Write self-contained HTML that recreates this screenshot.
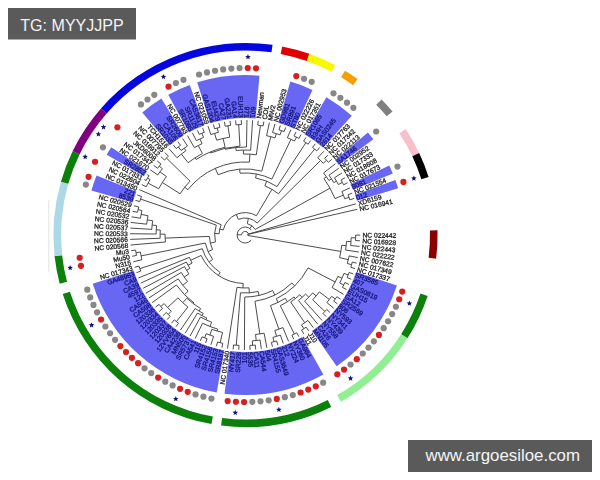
<!DOCTYPE html>
<html><head><meta charset="utf-8"><style>
html,body{margin:0;padding:0;background:#fff;}
body{width:600px;height:480px;position:relative;overflow:hidden;font-family:"Liberation Sans",sans-serif;}
svg{position:absolute;left:0;top:0;filter:blur(0.4px);}
.tg{position:absolute;left:8px;top:8px;width:128px;height:32px;background:#5a5a5a;color:#f2f2f2;font-size:17px;line-height:32px;text-align:center;letter-spacing:0px;}
.wm{position:absolute;left:408px;top:440px;width:184px;height:32px;background:#5a5a5a;color:#f2f2f2;font-size:16px;line-height:31px;text-align:center;}
</style></head><body>
<svg width="600" height="480" viewBox="0 0 600 480">
<rect x="48" y="200" width="1.5" height="72" fill="#ececec"/>
<path d="M437.14,230.21 A192.1,192.1 0 0 1 435.74,258.68 L428.19,257.74 A184.5,184.5 0 0 0 429.54,230.40 Z" fill="#8b0000" transform="translate(0.4,0)"/><path d="M427.27,295.95 A192.1,192.1 0 0 1 407.12,338.22 L400.71,334.13 A184.5,184.5 0 0 0 420.07,293.54 Z" fill="#0b800b" transform="translate(0.4,0)"/><path d="M407.12,338.22 A192.1,192.1 0 0 1 340.57,401.70 L336.79,395.10 A184.5,184.5 0 0 0 400.71,334.13 Z" fill="#92ee92" transform="translate(0.4,0)"/><path d="M330.81,406.92 A192.1,192.1 0 0 1 220.69,425.54 L221.66,418.00 A184.5,184.5 0 0 0 327.42,400.12 Z" fill="#0b800b" transform="translate(0.4,0)"/><path d="M211.08,424.06 A192.1,192.1 0 0 1 62.30,294.04 L69.53,291.71 A184.5,184.5 0 0 0 212.43,416.58 Z" fill="#0b800b" transform="translate(0.4,0)"/><path d="M59.29,283.75 A192.1,192.1 0 0 1 54.16,256.08 L61.71,255.25 A184.5,184.5 0 0 0 66.64,281.82 Z" fill="#0b800b" transform="translate(0.4,0)"/><path d="M54.16,256.08 A192.1,192.1 0 0 1 60.53,181.73 L67.84,183.84 A184.5,184.5 0 0 0 61.71,255.25 Z" fill="#add8e6" transform="translate(0.4,0)"/><path d="M60.53,181.73 A192.1,192.1 0 0 1 72.29,151.09 L79.13,154.41 A184.5,184.5 0 0 0 67.84,183.84 Z" fill="#0b800b" transform="translate(0.4,0)"/><path d="M72.29,151.09 A192.1,192.1 0 0 1 100.56,108.47 L106.28,113.47 A184.5,184.5 0 0 0 79.13,154.41 Z" fill="#800080" transform="translate(0.4,0)"/><path d="M100.56,108.47 A192.1,192.1 0 0 1 272.17,44.82 L271.10,52.34 A184.5,184.5 0 0 0 106.28,113.47 Z" fill="#0505e0" transform="translate(0.4,0)"/><path d="M281.75,46.43 A192.1,192.1 0 0 1 308.91,53.81 L306.38,60.98 A184.5,184.5 0 0 0 280.30,53.89 Z" fill="#e00000" transform="translate(0.4,0)"/><path d="M308.91,53.81 A192.1,192.1 0 0 1 334.69,65.07 L331.15,71.79 A184.5,184.5 0 0 0 306.38,60.98 Z" fill="#f8f800" transform="translate(0.4,0)"/><path d="M344.61,70.68 A192.1,192.1 0 0 1 357.20,79.00 L352.76,85.17 A184.5,184.5 0 0 0 340.68,77.19 Z" fill="#f5a000" transform="translate(0.4,0)"/><path d="M381.17,99.40 A192.1,192.1 0 0 1 392.15,111.39 L386.33,116.28 A184.5,184.5 0 0 0 375.79,104.77 Z" fill="#808080" transform="translate(0.4,0)"/><path d="M405.29,128.97 A192.1,192.1 0 0 1 418.77,152.90 L411.90,156.15 A184.5,184.5 0 0 0 398.95,133.17 Z" fill="#f8c0cc" transform="translate(0.4,0)"/><path d="M418.77,152.90 A192.1,192.1 0 0 1 428.21,176.91 L420.96,179.21 A184.5,184.5 0 0 0 411.90,156.15 Z" fill="#000000" transform="translate(0.4,0)"/><path d="M396.92,285.49 A160.0,160.0 0 0 1 336.70,366.18 L312.08,330.93 A117.0,117.0 0 0 0 356.12,271.92 Z" fill="#6767f4"/><path d="M323.36,374.56 A160.0,160.0 0 0 1 224.50,393.67 L230.04,351.03 A117.0,117.0 0 0 0 302.33,337.05 Z" fill="#6767f4"/><path d="M216.71,392.46 A160.0,160.0 0 0 1 92.68,283.67 L133.64,270.59 A117.0,117.0 0 0 0 224.34,350.14 Z" fill="#6767f4"/><path d="M91.41,190.49 A160.0,160.0 0 0 1 96.54,175.60 L136.46,191.56 A117.0,117.0 0 0 0 132.72,202.46 Z" fill="#6767f4"/><path d="M106.70,154.71 A160.0,160.0 0 0 1 111.25,147.35 L147.22,170.90 A117.0,117.0 0 0 0 143.90,176.29 Z" fill="#6767f4"/><path d="M142.27,112.42 A160.0,160.0 0 0 1 161.44,98.62 L183.92,135.27 A117.0,117.0 0 0 0 169.91,145.36 Z" fill="#6767f4"/><path d="M168.25,94.66 A160.0,160.0 0 0 1 189.74,84.88 L204.62,125.23 A117.0,117.0 0 0 0 188.90,132.38 Z" fill="#6767f4"/><path d="M197.20,82.34 A160.0,160.0 0 0 1 259.47,75.65 L255.61,118.47 A117.0,117.0 0 0 0 210.07,123.37 Z" fill="#6767f4"/><path d="M290.38,81.54 A160.0,160.0 0 0 1 312.47,89.88 L294.37,128.88 A117.0,117.0 0 0 0 278.21,122.78 Z" fill="#6767f4"/><path d="M326.42,97.20 A160.0,160.0 0 0 1 351.81,115.78 L323.13,147.82 A117.0,117.0 0 0 0 304.56,134.24 Z" fill="#6767f4"/><path d="M367.95,132.49 A160.0,160.0 0 0 1 373.31,139.28 L338.86,165.01 A117.0,117.0 0 0 0 334.93,160.04 Z" fill="#6767f4"/><path d="M389.23,165.53 A160.0,160.0 0 0 1 392.78,173.42 L353.09,189.97 A117.0,117.0 0 0 0 350.49,184.20 Z" fill="#6767f4"/><path d="M395.36,180.03 A160.0,160.0 0 0 1 398.11,188.24 L356.99,200.81 A117.0,117.0 0 0 0 354.98,194.81 Z" fill="#6767f4"/>
<path d="M247.56,235.42 L340.86,251.46 M341.72,245.24 A97.16,97.16 0 0 1 339.59,257.61 M341.72,245.24 L346.15,245.71 M346.52,241.35 A101.62,101.62 0 0 1 345.60,250.06 M346.52,241.35 L350.97,241.63 M351.15,237.72 A106.08,106.08 0 0 1 350.66,245.53 M351.15,237.72 L355.60,237.83 M355.64,235.11 A110.54,110.54 0 0 1 355.50,240.55 M355.64,235.11 L360.10,235.11 M355.50,240.55 L359.96,240.77 M350.66,245.53 L359.53,246.42 M345.60,250.06 L358.83,252.04 M339.59,257.61 L348.27,259.69 M349.11,255.86 A106.08,106.08 0 0 1 347.29,263.48 M349.11,255.86 L357.85,257.62 M347.29,263.48 L351.58,264.68 M352.28,262.05 A110.54,110.54 0 0 1 350.82,267.29 M352.28,262.05 L356.60,263.14 M350.82,267.29 L355.08,268.59 M247.51,234.32 L355.80,203.84 M247.54,234.44 L357.20,209.33 M241.51,234.69 A3.60,3.60 0 0 1 248.48,233.77 M241.50,234.87 L237.10,234.72 M251.23,240.14 A8.00,8.00 0 1 1 251.23,229.86 M249.81,228.54 L251.88,225.71 M247.31,223.71 A11.50,11.50 0 0 1 255.17,229.45 M247.31,223.71 L248.36,218.32 M238.39,219.38 A17.00,17.00 0 0 1 257.20,223.05 M238.39,219.38 L236.26,214.42 M223.28,229.94 A22.40,22.40 0 0 1 256.45,215.69 M223.28,229.94 L219.77,229.13 M219.13,233.69 A26.00,26.00 0 0 1 221.20,224.76 M219.13,233.69 L214.64,233.46 M215.41,241.96 A30.50,30.50 0 0 1 216.26,225.08 M215.41,241.96 L210.34,243.15 M212.53,249.63 A35.70,35.70 0 0 1 209.43,236.38 M212.53,249.63 L208.06,251.63 M212.68,259.44 A40.60,40.60 0 0 1 205.30,243.00 M212.68,259.44 L209.17,262.09 M220.15,272.45 A45.00,45.00 0 0 1 202.23,248.69 M220.15,272.45 L218.21,275.36 M243.16,283.46 A48.50,48.50 0 0 1 201.12,255.45 M243.16,283.46 L242.98,287.96 M249.00,287.86 A53.00,53.00 0 0 1 236.98,287.37 M249.00,287.86 L249.36,292.84 M258.16,291.51 A58.00,58.00 0 0 1 240.47,292.82 M258.16,291.51 L259.06,295.41 M272.63,290.55 A62.00,62.00 0 0 1 244.73,297.00 M272.63,290.55 L274.85,295.03 M291.86,282.99 A67.00,67.00 0 0 1 254.97,301.27 M291.86,282.99 L294.65,285.85 M308.04,267.86 A71.00,71.00 0 0 1 276.31,298.77 M308.04,267.86 L335.17,282.02 M337.89,276.39 A101.60,101.60 0 0 1 332.10,287.47 M337.89,276.39 L341.98,278.21 M343.99,273.39 A106.08,106.08 0 0 1 339.74,282.93 M343.99,273.39 L348.15,275.01 M349.10,272.46 A110.54,110.54 0 0 1 347.13,277.53 M349.10,272.46 L353.30,273.97 M347.13,277.53 L351.25,279.25 M339.74,282.93 L343.71,284.94 M344.91,282.50 A110.54,110.54 0 0 1 342.45,287.36 M344.91,282.50 L348.94,284.42 M342.45,287.36 L346.38,289.47 M332.10,287.47 L343.58,294.39 M276.31,298.77 L278.07,302.37 M285.28,298.33 A75.00,75.00 0 0 1 270.46,305.58 M285.28,298.33 L287.42,301.71 M294.08,296.98 A79.00,79.00 0 0 1 280.30,305.72 M294.08,296.98 L295.32,298.55 M299.74,294.80 A81.00,81.00 0 0 1 290.65,301.98 M299.74,294.80 L302.10,297.38 M305.56,294.04 A84.50,84.50 0 0 1 298.46,300.52 M305.56,294.04 L308.78,297.18 M312.66,292.94 A89.00,89.00 0 0 1 304.63,301.16 M312.66,292.94 L316.15,295.93 M319.42,291.90 A93.60,93.60 0 0 1 312.67,299.77 M319.42,291.90 L329.33,299.49 M331.65,296.34 A106.08,106.08 0 0 1 326.89,302.56 M331.65,296.34 L335.29,298.92 M336.83,296.68 A110.54,110.54 0 0 1 333.69,301.12 M336.83,296.68 L340.54,299.16 M333.69,301.12 L337.26,303.78 M326.89,302.56 L333.76,308.24 M312.67,299.77 L324.90,311.49 M326.76,309.51 A110.54,110.54 0 0 1 322.99,313.44 M326.76,309.51 L330.05,312.51 M322.99,313.44 L326.13,316.60 M304.63,301.16 L322.02,320.49 M298.46,300.52 L317.72,324.17 M290.65,301.98 L304.76,322.72 M307.95,320.45 A106.08,106.08 0 0 1 301.48,324.86 M307.95,320.45 L313.24,327.64 M301.48,324.86 L303.85,328.64 M306.13,327.16 A110.54,110.54 0 0 1 301.52,330.06 M306.13,327.16 L308.60,330.88 M301.52,330.06 L303.80,333.89 M280.30,305.72 L294.35,333.96 M296.78,332.72 A110.54,110.54 0 0 1 291.90,335.14 M296.78,332.72 L298.86,336.66 M291.90,335.14 L293.79,339.18 M270.46,305.58 L278.91,329.11 M282.93,327.57 A100.00,100.00 0 0 1 274.82,330.48 M282.93,327.57 L288.60,341.45 M274.82,330.48 L276.63,336.29 M280.35,335.05 A106.08,106.08 0 0 1 272.87,337.38 M280.35,335.05 L283.31,343.47 M272.87,337.38 L274.03,341.69 M276.65,340.94 A110.54,110.54 0 0 1 271.40,342.37 M276.65,340.94 L277.93,345.22 M271.40,342.37 L272.46,346.70 M254.97,301.27 L259.83,333.91 M264.08,333.18 A100.00,100.00 0 0 1 255.56,334.45 M264.08,333.18 L266.93,347.91 M255.56,334.45 L256.20,340.50 M260.08,340.02 A106.08,106.08 0 0 1 252.29,340.84 M260.08,340.02 L261.34,348.85 M252.29,340.84 L252.60,345.29 M255.31,345.07 A110.54,110.54 0 0 1 249.88,345.44 M255.31,345.07 L255.72,349.51 M249.88,345.44 L250.07,349.89 M244.73,297.00 L244.41,350.00 M240.47,292.82 L236.28,345.19 M239.00,345.37 A110.54,110.54 0 0 1 233.57,344.94 M239.00,345.37 L238.75,349.82 M233.57,344.94 L233.11,349.37 M236.98,287.37 L227.49,348.64 M201.12,255.45 L190.69,260.30 M192.09,263.11 A60.00,60.00 0 0 1 189.45,257.42 M192.09,263.11 L188.03,265.27 M189.80,268.38 A64.60,64.60 0 0 1 186.44,262.06 M189.80,268.38 L186.63,270.30 M188.91,273.83 A68.30,68.30 0 0 1 184.56,266.63 M188.91,273.83 L184.23,277.08 M187.51,281.47 A74.00,74.00 0 0 1 181.28,272.45 M187.51,281.47 L182.84,285.24 M188.11,291.15 A80.00,80.00 0 0 1 178.18,278.84 M188.11,291.15 L184.55,294.65 M194.06,302.97 A85.00,85.00 0 0 1 176.37,285.02 M194.06,302.97 L193.46,303.77 M200.63,308.61 A86.00,86.00 0 0 1 186.82,298.24 M200.63,308.61 L199.13,311.09 M203.26,313.44 A88.90,88.90 0 0 1 195.13,308.53 M203.26,313.44 L202.09,315.65 M206.81,317.99 A91.40,91.40 0 0 1 197.51,313.03 M206.81,317.99 L205.97,319.81 M211.66,322.21 A93.40,93.40 0 0 1 200.45,317.04 M211.66,322.21 L210.02,326.51 M217.73,329.10 A98.00,98.00 0 0 1 202.54,323.28 M217.73,329.10 L217.18,331.02 M222.54,332.42 A100.00,100.00 0 0 1 211.90,329.33 M222.54,332.42 L220.16,342.69 M222.82,343.27 A110.54,110.54 0 0 1 217.51,342.04 M222.82,343.27 L221.92,347.64 M217.51,342.04 L216.40,346.36 M211.90,329.33 L209.88,335.06 M213.60,336.30 A106.08,106.08 0 0 1 206.21,333.70 M213.60,336.30 L210.95,344.81 M206.21,333.70 L204.58,337.84 M207.12,338.81 A110.54,110.54 0 0 1 202.06,336.82 M207.12,338.81 L205.59,343.00 M202.06,336.82 L200.32,340.92 M202.54,323.28 L195.16,338.59 M200.45,317.04 L190.12,336.01 M197.51,313.03 L185.22,333.18 M195.13,308.53 L180.46,330.11 M186.82,298.24 L182.75,302.65 M187.91,307.07 A92.00,92.00 0 0 1 177.93,297.86 M187.91,307.07 L176.39,321.59 M178.54,323.25 A110.54,110.54 0 0 1 174.28,319.87 M178.54,323.25 L175.85,326.81 M174.28,319.87 L171.42,323.29 M177.93,297.86 L167.65,307.48 M171.31,311.21 A106.08,106.08 0 0 1 164.17,303.58 M171.31,311.21 L168.21,314.41 M170.18,316.28 A110.54,110.54 0 0 1 166.27,312.50 M170.18,316.28 L167.16,319.56 M166.27,312.50 L163.09,315.62 M164.17,303.58 L160.77,306.47 M162.55,308.52 A110.54,110.54 0 0 1 159.04,304.37 M162.55,308.52 L159.22,311.49 M159.04,304.37 L155.56,307.17 M176.37,285.02 L152.12,302.67 M178.18,278.84 L148.90,298.01 M181.28,272.45 L145.92,293.20 M184.56,266.63 L143.17,288.25 M186.44,262.06 L140.67,283.17 M189.45,257.42 L138.43,277.97 M202.23,248.69 L139.80,268.62 M140.66,271.20 A110.54,110.54 0 0 1 139.00,266.02 M140.66,271.20 L136.44,272.67 M139.00,266.02 L134.72,267.27 M205.30,243.00 L141.10,255.89 M141.94,259.72 A106.08,106.08 0 0 1 140.40,252.04 M141.94,259.72 L133.27,261.80 M140.40,252.04 L136.00,252.76 M136.47,255.44 A110.54,110.54 0 0 1 135.59,250.06 M136.47,255.44 L132.08,256.26 M135.59,250.06 L131.17,250.67 M209.43,236.38 L165.16,238.09 M165.41,241.99 A80.00,80.00 0 0 1 165.10,234.18 M165.41,241.99 L130.54,245.04 M165.10,234.18 L160.10,234.13 M160.16,238.25 A85.00,85.00 0 0 1 160.25,230.01 M160.16,238.25 L130.18,239.39 M160.25,230.01 L156.25,229.78 M156.11,234.02 A89.00,89.00 0 0 1 156.60,225.54 M156.11,234.02 L130.11,233.73 M156.60,225.54 L152.13,225.07 M151.77,229.37 A93.50,93.50 0 0 1 152.69,220.79 M151.77,229.37 L130.31,228.07 M152.69,220.79 L147.25,219.95 M146.69,224.18 A99.00,99.00 0 0 1 147.99,215.75 M146.69,224.18 L130.79,222.43 M147.99,215.75 L141.12,214.39 M140.43,218.24 A106.00,106.00 0 0 1 141.96,210.56 M140.43,218.24 L131.55,216.82 M141.96,210.56 L138.06,209.64 M137.47,212.28 A110.00,110.00 0 0 1 138.72,207.01 M137.47,212.28 L132.58,211.25 M138.72,207.01 L133.88,205.74 M216.26,225.08 L140.56,199.06 M139.71,201.65 A110.54,110.54 0 0 1 141.48,196.50 M139.71,201.65 L135.46,200.30 M141.48,196.50 L137.30,194.95 M221.20,224.76 L139.40,189.69 M256.45,215.69 L271.97,189.31 M264.87,185.83 A53.00,53.00 0 0 1 278.46,193.82 M264.87,185.83 L266.74,181.19 M255.61,177.96 A58.00,58.00 0 0 1 277.00,186.56 M255.61,177.96 L256.34,174.03 M240.00,173.21 A62.00,62.00 0 0 1 271.90,179.09 M240.00,173.21 L239.67,169.22 M218.13,174.76 A66.00,66.00 0 0 1 261.82,171.15 M218.13,174.76 L215.27,168.37 M187.87,189.69 A73.00,73.00 0 0 1 249.43,162.13 M187.87,189.69 L184.73,187.20 M180.07,193.77 A77.00,77.00 0 0 1 190.05,181.16 M180.07,193.77 L162.33,182.53 M158.69,188.78 A98.00,98.00 0 0 1 166.43,176.56 M158.69,188.78 L148.10,183.12 M146.25,186.74 A110.00,110.00 0 0 1 150.09,179.57 M146.25,186.74 L141.76,184.54 M150.09,179.57 L147.49,178.06 M146.12,180.48 A113.00,113.00 0 0 1 148.93,175.67 M146.12,180.48 L144.37,179.52 M148.93,175.67 L147.22,174.62 M166.43,176.56 L160.01,171.79 M157.73,174.98 A106.00,106.00 0 0 1 162.40,168.69 M157.73,174.98 L150.31,169.88 M162.40,168.69 L159.28,166.19 M157.61,168.32 A110.00,110.00 0 0 1 161.00,164.10 M157.61,168.32 L153.63,165.29 M161.00,164.10 L157.18,160.88 M190.05,181.16 L166.46,158.08 M164.59,160.04 A110.00,110.00 0 0 1 168.38,156.17 M164.59,160.04 L160.93,156.64 M168.38,156.17 L164.89,152.59 M249.43,162.13 L249.90,154.14 M243.44,154.02 A81.00,81.00 0 0 1 256.34,154.78 M243.44,154.02 L243.36,150.02 M236.08,150.48 A85.00,85.00 0 0 1 250.65,150.18 M236.08,150.48 L235.76,147.50 M225.16,149.29 A88.00,88.00 0 0 1 246.51,147.01 M225.16,149.29 L224.93,148.32 M210.49,153.01 A89.00,89.00 0 0 1 239.96,146.15 M210.49,153.01 L210.10,152.09 M196.16,159.47 A90.00,90.00 0 0 1 225.11,147.25 M196.16,159.47 L195.08,157.79 M188.17,162.73 A92.00,92.00 0 0 1 202.41,153.50 M188.17,162.73 L181.36,154.09 M176.98,157.74 A103.00,103.00 0 0 1 185.94,150.68 M176.98,157.74 L169.05,148.74 M185.94,150.68 L184.22,148.23 M181.06,150.53 A106.00,106.00 0 0 1 187.46,146.04 M181.06,150.53 L178.31,146.92 M176.17,148.59 A110.54,110.54 0 0 1 180.50,145.30 M176.17,148.59 L173.38,145.10 M180.50,145.30 L177.90,141.68 M187.46,146.04 L182.57,138.49 M202.41,153.50 L198.23,145.53 M194.42,147.63 A101.00,101.00 0 0 1 202.13,143.60 M194.42,147.63 L187.40,135.52 M202.13,143.60 L199.97,139.00 M196.45,140.73 A106.08,106.08 0 0 1 203.54,137.40 M196.45,140.73 L192.36,132.80 M203.54,137.40 L201.80,133.29 M199.31,134.39 A110.54,110.54 0 0 1 204.31,132.26 M199.31,134.39 L197.46,130.33 M204.31,132.26 L202.67,128.11 M225.11,147.25 L223.11,138.47 M216.63,140.18 A99.00,99.00 0 0 1 229.69,137.21 M216.63,140.18 L214.59,133.40 M210.86,134.60 A106.08,106.08 0 0 1 218.36,132.34 M210.86,134.60 L207.98,126.16 M218.36,132.34 L217.24,128.03 M214.61,128.75 A110.54,110.54 0 0 1 219.88,127.38 M214.61,128.75 L213.38,124.46 M219.88,127.38 L218.86,123.03 M229.69,137.21 L227.89,125.81 M225.21,126.26 A110.54,110.54 0 0 1 230.59,125.42 M225.21,126.26 L224.41,121.88 M230.59,125.42 L230.00,121.00 M239.96,146.15 L238.71,124.64 M236.00,124.84 A110.54,110.54 0 0 1 241.43,124.52 M236.00,124.84 L235.63,120.39 M241.43,124.52 L241.28,120.06 M246.51,147.01 L246.95,120.01 M250.65,150.18 L252.60,120.25 M256.34,154.78 L260.43,125.53 M257.73,125.18 A110.54,110.54 0 0 1 263.12,125.94 M257.73,125.18 L258.24,120.75 M263.12,125.94 L263.85,121.54 M261.82,171.15 L270.84,136.69 M266.59,135.68 A101.62,101.62 0 0 1 275.05,137.90 M266.59,135.68 L269.41,122.60 M275.05,137.90 L276.37,133.63 M272.60,132.55 A106.08,106.08 0 0 1 280.09,134.86 M272.60,132.55 L274.92,123.93 M280.09,134.86 L281.56,130.65 M278.98,129.78 A110.54,110.54 0 0 1 284.12,131.58 M278.98,129.78 L280.35,125.54 M284.12,131.58 L285.69,127.40 M271.90,179.09 L290.95,139.34 M287.39,137.71 A106.08,106.08 0 0 1 294.45,141.10 M287.39,137.71 L290.94,129.53 M294.45,141.10 L296.53,137.15 M294.10,135.91 A110.54,110.54 0 0 1 298.92,138.45 M294.10,135.91 L296.08,131.92 M298.92,138.45 L301.09,134.55 M277.00,186.56 L305.90,142.68 M303.61,141.21 A110.54,110.54 0 0 1 308.15,144.21 M303.61,141.21 L305.97,137.43 M308.15,144.21 L310.70,140.54 M278.46,193.82 L314.68,149.11 M312.54,147.42 A110.54,110.54 0 0 1 316.77,150.85 M312.54,147.42 L315.27,143.89 M316.77,150.85 L319.67,147.45 M257.20,223.05 L320.58,160.46 M317.77,157.72 A106.08,106.08 0 0 1 323.28,163.30 M317.77,157.72 L323.89,151.23 M323.28,163.30 L326.57,160.28 M324.70,158.30 A110.54,110.54 0 0 1 328.38,162.31 M324.70,158.30 L327.91,155.21 M328.38,162.31 L331.74,159.38 M255.17,229.45 L330.05,188.18 M323.92,178.47 A97.00,97.00 0 0 1 334.99,198.55 M323.92,178.47 L326.36,176.72 M323.59,173.03 A100.00,100.00 0 0 1 328.96,180.53 M323.59,173.03 L335.36,163.74 M328.96,180.53 L331.48,178.90 M328.98,175.23 A103.00,103.00 0 0 1 333.82,182.67 M328.98,175.23 L338.76,168.27 M333.82,182.67 L336.47,181.11 M334.42,177.77 A106.08,106.08 0 0 1 338.40,184.52 M334.42,177.77 L341.93,172.96 M338.40,184.52 L342.32,182.39 M341.00,180.02 A110.54,110.54 0 0 1 343.59,184.80 M341.00,180.02 L344.86,177.80 M343.59,184.80 L347.56,182.78 M334.99,198.55 L343.41,195.14 M341.87,191.54 A106.08,106.08 0 0 1 344.81,198.80 M341.87,191.54 L350.01,187.89 M344.81,198.80 L349.00,197.28 M348.04,194.73 A110.54,110.54 0 0 1 349.90,199.85 M348.04,194.73 L352.20,193.11 M349.90,199.85 L354.13,198.43" fill="none" stroke="#383838" stroke-width="0.9"/>
<g font-family="Liberation Sans, sans-serif" font-size="6.7" stroke-width="0.3">
<text x="362.40" y="235.11" transform="rotate(0.06 362.40 235.11)" text-anchor="start" dominant-baseline="central" fill="#262626" stroke="#262626" textLength="33.90" lengthAdjust="spacingAndGlyphs">NC 022442</text><text x="362.25" y="240.89" transform="rotate(2.88 362.25 240.89)" text-anchor="start" dominant-baseline="central" fill="#262626" stroke="#262626" textLength="33.90" lengthAdjust="spacingAndGlyphs">NC 016928</text><text x="361.82" y="246.65" transform="rotate(5.70 361.82 246.65)" text-anchor="start" dominant-baseline="central" fill="#262626" stroke="#262626" textLength="33.90" lengthAdjust="spacingAndGlyphs">NC 022443</text><text x="361.11" y="252.38" transform="rotate(8.52 361.11 252.38)" text-anchor="start" dominant-baseline="central" fill="#262626" stroke="#262626" textLength="33.90" lengthAdjust="spacingAndGlyphs">NC 022222</text><text x="360.11" y="258.07" transform="rotate(11.34 360.11 258.07)" text-anchor="start" dominant-baseline="central" fill="#262626" stroke="#262626" textLength="33.90" lengthAdjust="spacingAndGlyphs">NC 007622</text><text x="358.83" y="263.70" transform="rotate(14.16 358.83 263.70)" text-anchor="start" dominant-baseline="central" fill="#262626" stroke="#262626" textLength="33.90" lengthAdjust="spacingAndGlyphs">NC 017349</text><text x="357.28" y="269.27" transform="rotate(16.98 357.28 269.27)" text-anchor="start" dominant-baseline="central" fill="#262626" stroke="#262626" textLength="33.90" lengthAdjust="spacingAndGlyphs">NC 017337</text><text x="355.46" y="274.75" transform="rotate(19.81 355.46 274.75)" text-anchor="start" dominant-baseline="central" fill="#16167a" stroke="#16167a" textLength="24.21" lengthAdjust="spacingAndGlyphs">SR3585</text><text x="353.37" y="280.13" transform="rotate(22.63 353.37 280.13)" text-anchor="start" dominant-baseline="central" fill="#16167a" stroke="#16167a" textLength="11.18" lengthAdjust="spacingAndGlyphs">407</text><text x="351.02" y="285.41" transform="rotate(25.45 351.02 285.41)" text-anchor="start" dominant-baseline="central" fill="#16167a" stroke="#16167a" textLength="29.05" lengthAdjust="spacingAndGlyphs">GAS0819</text><text x="348.41" y="290.56" transform="rotate(28.27 348.41 290.56)" text-anchor="start" dominant-baseline="central" fill="#16167a" stroke="#16167a" textLength="21.60" lengthAdjust="spacingAndGlyphs">EUH15</text><text x="345.55" y="295.58" transform="rotate(31.09 345.55 295.58)" text-anchor="start" dominant-baseline="central" fill="#16167a" stroke="#16167a" textLength="17.13" lengthAdjust="spacingAndGlyphs">GA12</text><text x="342.44" y="300.45" transform="rotate(33.91 342.44 300.45)" text-anchor="start" dominant-baseline="central" fill="#16167a" stroke="#16167a" textLength="24.21" lengthAdjust="spacingAndGlyphs">SR2569</text><text x="339.10" y="305.16" transform="rotate(36.74 339.10 305.16)" text-anchor="start" dominant-baseline="central" fill="#16167a" stroke="#16167a" textLength="11.18" lengthAdjust="spacingAndGlyphs">806</text><text x="335.54" y="309.70" transform="rotate(39.56 335.54 309.70)" text-anchor="start" dominant-baseline="central" fill="#16167a" stroke="#16167a" textLength="20.49" lengthAdjust="spacingAndGlyphs">NY593</text><text x="331.75" y="314.06" transform="rotate(42.38 331.75 314.06)" text-anchor="start" dominant-baseline="central" fill="#16167a" stroke="#16167a" textLength="20.49" lengthAdjust="spacingAndGlyphs">NY341</text><text x="327.75" y="318.23" transform="rotate(45.20 327.75 318.23)" text-anchor="start" dominant-baseline="central" fill="#16167a" stroke="#16167a" textLength="20.49" lengthAdjust="spacingAndGlyphs">NY439</text><text x="323.56" y="322.20" transform="rotate(48.02 323.56 322.20)" text-anchor="start" dominant-baseline="central" fill="#16167a" stroke="#16167a" textLength="20.49" lengthAdjust="spacingAndGlyphs">NY558</text><text x="319.17" y="325.96" transform="rotate(50.84 319.17 325.96)" text-anchor="start" dominant-baseline="central" fill="#16167a" stroke="#16167a" textLength="16.76" lengthAdjust="spacingAndGlyphs">CA26</text><text x="314.60" y="329.49" transform="rotate(53.66 314.60 329.49)" text-anchor="start" dominant-baseline="central" fill="#16167a" stroke="#16167a" textLength="21.60" lengthAdjust="spacingAndGlyphs">MN105</text><text x="309.87" y="332.80" transform="rotate(56.49 309.87 332.80)" text-anchor="start" dominant-baseline="central" fill="#262626" stroke="#262626" textLength="10.80" lengthAdjust="spacingAndGlyphs">J10</text><text x="304.97" y="335.87" transform="rotate(59.31 304.97 335.87)" text-anchor="start" dominant-baseline="central" fill="#262626" stroke="#262626" textLength="10.31" lengthAdjust="spacingAndGlyphs">J11</text><text x="299.94" y="338.69" transform="rotate(62.13 299.94 338.69)" text-anchor="start" dominant-baseline="central" fill="#16167a" stroke="#16167a" textLength="20.86" lengthAdjust="spacingAndGlyphs">GA984</text><text x="294.76" y="341.27" transform="rotate(64.95 294.76 341.27)" text-anchor="start" dominant-baseline="central" fill="#16167a" stroke="#16167a" textLength="20.49" lengthAdjust="spacingAndGlyphs">NY360</text><text x="289.47" y="343.58" transform="rotate(67.77 289.47 343.58)" text-anchor="start" dominant-baseline="central" fill="#16167a" stroke="#16167a" textLength="20.49" lengthAdjust="spacingAndGlyphs">NY224</text><text x="284.08" y="345.64" transform="rotate(70.59 284.08 345.64)" text-anchor="start" dominant-baseline="central" fill="#16167a" stroke="#16167a" textLength="11.18" lengthAdjust="spacingAndGlyphs">212</text><text x="278.58" y="347.42" transform="rotate(73.41 278.58 347.42)" text-anchor="start" dominant-baseline="central" fill="#16167a" stroke="#16167a" textLength="29.05" lengthAdjust="spacingAndGlyphs">GAS3649</text><text x="273.01" y="348.93" transform="rotate(76.24 273.01 348.93)" text-anchor="start" dominant-baseline="central" fill="#16167a" stroke="#16167a" textLength="24.21" lengthAdjust="spacingAndGlyphs">SR4155</text><text x="267.37" y="350.17" transform="rotate(79.06 267.37 350.17)" text-anchor="start" dominant-baseline="central" fill="#16167a" stroke="#16167a" textLength="11.18" lengthAdjust="spacingAndGlyphs">504</text><text x="261.67" y="351.12" transform="rotate(81.88 261.67 351.12)" text-anchor="start" dominant-baseline="central" fill="#16167a" stroke="#16167a" textLength="20.49" lengthAdjust="spacingAndGlyphs">CA544</text><text x="255.93" y="351.80" transform="rotate(84.70 255.93 351.80)" text-anchor="start" dominant-baseline="central" fill="#16167a" stroke="#16167a" textLength="16.26" lengthAdjust="spacingAndGlyphs">CA11</text><text x="250.17" y="352.19" transform="rotate(87.52 250.17 352.19)" text-anchor="start" dominant-baseline="central" fill="#16167a" stroke="#16167a" textLength="14.90" lengthAdjust="spacingAndGlyphs">5535</text><text x="244.40" y="352.30" transform="rotate(-89.66 244.40 352.30)" text-anchor="end" dominant-baseline="central" fill="#16167a" stroke="#16167a" textLength="11.18" lengthAdjust="spacingAndGlyphs">101</text><text x="238.62" y="352.12" transform="rotate(-86.83 238.62 352.12)" text-anchor="end" dominant-baseline="central" fill="#16167a" stroke="#16167a" textLength="20.49" lengthAdjust="spacingAndGlyphs">SR226</text><text x="232.87" y="351.66" transform="rotate(-84.01 232.87 351.66)" text-anchor="end" dominant-baseline="central" fill="#16167a" stroke="#16167a" textLength="20.49" lengthAdjust="spacingAndGlyphs">NY417</text><text x="227.14" y="350.92" transform="rotate(-81.19 227.14 350.92)" text-anchor="end" dominant-baseline="central" fill="#262626" stroke="#262626" textLength="33.90" lengthAdjust="spacingAndGlyphs">NC 017340</text><text x="221.45" y="349.89" transform="rotate(-78.37 221.45 349.89)" text-anchor="end" dominant-baseline="central" fill="#16167a" stroke="#16167a" textLength="24.21" lengthAdjust="spacingAndGlyphs">SR8187</text><text x="215.83" y="348.59" transform="rotate(-75.55 215.83 348.59)" text-anchor="end" dominant-baseline="central" fill="#16167a" stroke="#16167a" textLength="24.21" lengthAdjust="spacingAndGlyphs">SR4153</text><text x="210.27" y="347.01" transform="rotate(-72.73 210.27 347.01)" text-anchor="end" dominant-baseline="central" fill="#16167a" stroke="#16167a" textLength="24.21" lengthAdjust="spacingAndGlyphs">SR4156</text><text x="204.80" y="345.16" transform="rotate(-69.91 204.80 345.16)" text-anchor="end" dominant-baseline="central" fill="#16167a" stroke="#16167a" textLength="24.21" lengthAdjust="spacingAndGlyphs">SR4152</text><text x="199.43" y="343.04" transform="rotate(-67.08 199.43 343.04)" text-anchor="end" dominant-baseline="central" fill="#16167a" stroke="#16167a" textLength="10.68" lengthAdjust="spacingAndGlyphs">115</text><text x="194.16" y="340.66" transform="rotate(-64.26 194.16 340.66)" text-anchor="end" dominant-baseline="central" fill="#16167a" stroke="#16167a" textLength="20.49" lengthAdjust="spacingAndGlyphs">CA541</text><text x="189.02" y="338.03" transform="rotate(-61.44 189.02 338.03)" text-anchor="end" dominant-baseline="central" fill="#16167a" stroke="#16167a" textLength="24.21" lengthAdjust="spacingAndGlyphs">SR5737</text><text x="184.02" y="335.14" transform="rotate(-58.62 184.02 335.14)" text-anchor="end" dominant-baseline="central" fill="#16167a" stroke="#16167a" textLength="21.60" lengthAdjust="spacingAndGlyphs">MN505</text><text x="179.16" y="332.01" transform="rotate(-55.80 179.16 332.01)" text-anchor="end" dominant-baseline="central" fill="#16167a" stroke="#16167a" textLength="24.21" lengthAdjust="spacingAndGlyphs">CA4236</text><text x="174.47" y="328.65" transform="rotate(-52.98 174.47 328.65)" text-anchor="end" dominant-baseline="central" fill="#16167a" stroke="#16167a" textLength="27.57" lengthAdjust="spacingAndGlyphs">12VV654</text><text x="169.94" y="325.06" transform="rotate(-50.16 169.94 325.06)" text-anchor="end" dominant-baseline="central" fill="#16167a" stroke="#16167a" textLength="22.36" lengthAdjust="spacingAndGlyphs">120338</text><text x="165.60" y="321.25" transform="rotate(-47.33 165.60 321.25)" text-anchor="end" dominant-baseline="central" fill="#16167a" stroke="#16167a" textLength="22.36" lengthAdjust="spacingAndGlyphs">120337</text><text x="161.45" y="317.23" transform="rotate(-44.51 161.45 317.23)" text-anchor="end" dominant-baseline="central" fill="#16167a" stroke="#16167a" textLength="22.36" lengthAdjust="spacingAndGlyphs">120335</text><text x="157.51" y="313.02" transform="rotate(-41.69 157.51 313.02)" text-anchor="end" dominant-baseline="central" fill="#16167a" stroke="#16167a" textLength="22.36" lengthAdjust="spacingAndGlyphs">120334</text><text x="153.77" y="308.61" transform="rotate(-38.87 153.77 308.61)" text-anchor="end" dominant-baseline="central" fill="#16167a" stroke="#16167a" textLength="22.36" lengthAdjust="spacingAndGlyphs">120336</text><text x="150.26" y="304.03" transform="rotate(-36.05 150.26 304.03)" text-anchor="end" dominant-baseline="central" fill="#16167a" stroke="#16167a" textLength="20.49" lengthAdjust="spacingAndGlyphs">CA598</text><text x="146.98" y="299.27" transform="rotate(-33.23 146.98 299.27)" text-anchor="end" dominant-baseline="central" fill="#16167a" stroke="#16167a" textLength="20.49" lengthAdjust="spacingAndGlyphs">CA546</text><text x="143.93" y="294.37" transform="rotate(-30.40 143.93 294.37)" text-anchor="end" dominant-baseline="central" fill="#16167a" stroke="#16167a" textLength="11.18" lengthAdjust="spacingAndGlyphs">122</text><text x="141.13" y="289.31" transform="rotate(-27.58 141.13 289.31)" text-anchor="end" dominant-baseline="central" fill="#16167a" stroke="#16167a" textLength="14.90" lengthAdjust="spacingAndGlyphs">4597</text><text x="138.58" y="284.13" transform="rotate(-24.76 138.58 284.13)" text-anchor="end" dominant-baseline="central" fill="#16167a" stroke="#16167a" textLength="16.76" lengthAdjust="spacingAndGlyphs">CA39</text><text x="136.30" y="278.83" transform="rotate(-21.94 136.30 278.83)" text-anchor="end" dominant-baseline="central" fill="#16167a" stroke="#16167a" textLength="13.03" lengthAdjust="spacingAndGlyphs">CA9</text><text x="134.27" y="273.42" transform="rotate(-19.12 134.27 273.42)" text-anchor="end" dominant-baseline="central" fill="#16167a" stroke="#16167a" textLength="28.31" lengthAdjust="spacingAndGlyphs">GA48963</text><text x="132.51" y="267.92" transform="rotate(-16.30 132.51 267.92)" text-anchor="end" dominant-baseline="central" fill="#262626" stroke="#262626" textLength="33.90" lengthAdjust="spacingAndGlyphs">NC 017343</text><text x="131.03" y="262.33" transform="rotate(-13.48 131.03 262.33)" text-anchor="end" dominant-baseline="central" fill="#262626" stroke="#262626" textLength="16.02" lengthAdjust="spacingAndGlyphs">N315</text><text x="129.82" y="256.69" transform="rotate(-10.65 129.82 256.69)" text-anchor="end" dominant-baseline="central" fill="#262626" stroke="#262626" textLength="16.76" lengthAdjust="spacingAndGlyphs">Mu50</text><text x="128.89" y="250.99" transform="rotate(-7.83 128.89 250.99)" text-anchor="end" dominant-baseline="central" fill="#262626" stroke="#262626" textLength="13.03" lengthAdjust="spacingAndGlyphs">Mu3</text><text x="128.25" y="245.25" transform="rotate(-5.01 128.25 245.25)" text-anchor="end" dominant-baseline="central" fill="#262626" stroke="#262626" textLength="33.90" lengthAdjust="spacingAndGlyphs">NC 020568</text><text x="127.89" y="239.48" transform="rotate(-2.19 127.89 239.48)" text-anchor="end" dominant-baseline="central" fill="#262626" stroke="#262626" textLength="33.90" lengthAdjust="spacingAndGlyphs">NC 020566</text><text x="127.81" y="233.71" transform="rotate(0.63 127.81 233.71)" text-anchor="end" dominant-baseline="central" fill="#262626" stroke="#262626" textLength="33.90" lengthAdjust="spacingAndGlyphs">NC 020533</text><text x="128.01" y="227.93" transform="rotate(3.45 128.01 227.93)" text-anchor="end" dominant-baseline="central" fill="#262626" stroke="#262626" textLength="33.90" lengthAdjust="spacingAndGlyphs">NC 020537</text><text x="128.50" y="222.18" transform="rotate(6.28 128.50 222.18)" text-anchor="end" dominant-baseline="central" fill="#262626" stroke="#262626" textLength="33.90" lengthAdjust="spacingAndGlyphs">NC 020536</text><text x="129.28" y="216.46" transform="rotate(9.10 129.28 216.46)" text-anchor="end" dominant-baseline="central" fill="#262626" stroke="#262626" textLength="33.90" lengthAdjust="spacingAndGlyphs">NC 020532</text><text x="130.33" y="210.78" transform="rotate(11.92 130.33 210.78)" text-anchor="end" dominant-baseline="central" fill="#262626" stroke="#262626" textLength="33.90" lengthAdjust="spacingAndGlyphs">NC 020564</text><text x="131.66" y="205.16" transform="rotate(14.74 131.66 205.16)" text-anchor="end" dominant-baseline="central" fill="#262626" stroke="#262626" textLength="33.90" lengthAdjust="spacingAndGlyphs">NC 020529</text><text x="133.27" y="199.61" transform="rotate(17.56 133.27 199.61)" text-anchor="end" dominant-baseline="central" fill="#16167a" stroke="#16167a" textLength="14.90" lengthAdjust="spacingAndGlyphs">8539</text><text x="135.14" y="194.15" transform="rotate(20.38 135.14 194.15)" text-anchor="end" dominant-baseline="central" fill="#16167a" stroke="#16167a" textLength="11.18" lengthAdjust="spacingAndGlyphs">221</text><text x="137.29" y="188.78" transform="rotate(23.20 137.29 188.78)" text-anchor="end" dominant-baseline="central" fill="#262626" stroke="#262626" textLength="33.90" lengthAdjust="spacingAndGlyphs">NC 013450</text><text x="139.69" y="183.53" transform="rotate(26.03 139.69 183.53)" text-anchor="end" dominant-baseline="central" fill="#262626" stroke="#262626" textLength="33.90" lengthAdjust="spacingAndGlyphs">NC 022604</text><text x="142.36" y="178.41" transform="rotate(28.85 142.36 178.41)" text-anchor="end" dominant-baseline="central" fill="#262626" stroke="#262626" textLength="33.90" lengthAdjust="spacingAndGlyphs">NC 017331</text><text x="145.27" y="173.42" transform="rotate(31.67 145.27 173.42)" text-anchor="end" dominant-baseline="central" fill="#16167a" stroke="#16167a" textLength="24.21" lengthAdjust="spacingAndGlyphs">SR2852</text><text x="148.42" y="168.58" transform="rotate(34.49 148.42 168.58)" text-anchor="end" dominant-baseline="central" fill="#262626" stroke="#262626" textLength="33.90" lengthAdjust="spacingAndGlyphs">NC 021670</text><text x="151.81" y="163.90" transform="rotate(37.31 151.81 163.90)" text-anchor="end" dominant-baseline="central" fill="#262626" stroke="#262626" textLength="33.90" lengthAdjust="spacingAndGlyphs">NC 017347</text><text x="155.42" y="159.39" transform="rotate(40.13 155.42 159.39)" text-anchor="end" dominant-baseline="central" fill="#262626" stroke="#262626" textLength="27.56" lengthAdjust="spacingAndGlyphs">JKD6008</text><text x="159.25" y="155.07" transform="rotate(42.95 159.25 155.07)" text-anchor="end" dominant-baseline="central" fill="#262626" stroke="#262626" textLength="33.90" lengthAdjust="spacingAndGlyphs">NC 016912</text><text x="163.29" y="150.94" transform="rotate(45.78 163.29 150.94)" text-anchor="end" dominant-baseline="central" fill="#262626" stroke="#262626" textLength="33.90" lengthAdjust="spacingAndGlyphs">NC 007795</text><text x="167.52" y="147.02" transform="rotate(48.60 167.52 147.02)" text-anchor="end" dominant-baseline="central" fill="#262626" stroke="#262626" textLength="28.67" lengthAdjust="spacingAndGlyphs">TCH1516</text><text x="171.95" y="143.30" transform="rotate(51.42 171.95 143.30)" text-anchor="end" dominant-baseline="central" fill="#16167a" stroke="#16167a" textLength="24.21" lengthAdjust="spacingAndGlyphs">SR1035</text><text x="176.55" y="139.81" transform="rotate(54.24 176.55 139.81)" text-anchor="end" dominant-baseline="central" fill="#16167a" stroke="#16167a" textLength="20.49" lengthAdjust="spacingAndGlyphs">CA105</text><text x="181.32" y="136.55" transform="rotate(57.06 181.32 136.55)" text-anchor="end" dominant-baseline="central" fill="#16167a" stroke="#16167a" textLength="24.21" lengthAdjust="spacingAndGlyphs">SR2609</text><text x="186.24" y="133.53" transform="rotate(59.88 186.24 133.53)" text-anchor="end" dominant-baseline="central" fill="#262626" stroke="#262626" textLength="33.90" lengthAdjust="spacingAndGlyphs">NC 007793</text><text x="191.31" y="130.76" transform="rotate(62.71 191.31 130.76)" text-anchor="end" dominant-baseline="central" fill="#16167a" stroke="#16167a" textLength="24.21" lengthAdjust="spacingAndGlyphs">SR1085</text><text x="196.51" y="128.24" transform="rotate(65.53 196.51 128.24)" text-anchor="end" dominant-baseline="central" fill="#16167a" stroke="#16167a" textLength="23.72" lengthAdjust="spacingAndGlyphs">SR1129</text><text x="201.82" y="125.98" transform="rotate(68.35 201.82 125.98)" text-anchor="end" dominant-baseline="central" fill="#16167a" stroke="#16167a" textLength="28.68" lengthAdjust="spacingAndGlyphs">CAS3617</text><text x="207.24" y="123.98" transform="rotate(71.17 207.24 123.98)" text-anchor="end" dominant-baseline="central" fill="#262626" stroke="#262626" textLength="33.90" lengthAdjust="spacingAndGlyphs">NC 021059</text><text x="212.75" y="122.25" transform="rotate(73.99 212.75 122.25)" text-anchor="end" dominant-baseline="central" fill="#16167a" stroke="#16167a" textLength="29.05" lengthAdjust="spacingAndGlyphs">GAS1204</text><text x="218.34" y="120.79" transform="rotate(76.81 218.34 120.79)" text-anchor="end" dominant-baseline="central" fill="#16167a" stroke="#16167a" textLength="20.49" lengthAdjust="spacingAndGlyphs">EU429</text><text x="223.99" y="119.61" transform="rotate(79.63 223.99 119.61)" text-anchor="end" dominant-baseline="central" fill="#16167a" stroke="#16167a" textLength="16.76" lengthAdjust="spacingAndGlyphs">CA27</text><text x="229.70" y="118.72" transform="rotate(82.46 229.70 118.72)" text-anchor="end" dominant-baseline="central" fill="#16167a" stroke="#16167a" textLength="20.86" lengthAdjust="spacingAndGlyphs">GA231</text><text x="235.44" y="118.10" transform="rotate(85.28 235.44 118.10)" text-anchor="end" dominant-baseline="central" fill="#16167a" stroke="#16167a" textLength="17.13" lengthAdjust="spacingAndGlyphs">GA14</text><text x="241.21" y="117.76" transform="rotate(88.10 241.21 117.76)" text-anchor="end" dominant-baseline="central" fill="#16167a" stroke="#16167a" textLength="21.60" lengthAdjust="spacingAndGlyphs">EUH13</text><text x="246.98" y="117.72" transform="rotate(90.92 246.98 117.72)" text-anchor="end" dominant-baseline="central" fill="#16167a" stroke="#16167a" textLength="11.18" lengthAdjust="spacingAndGlyphs">971</text><text x="252.75" y="117.95" transform="rotate(93.74 252.75 117.95)" text-anchor="end" dominant-baseline="central" fill="#16167a" stroke="#16167a" textLength="11.18" lengthAdjust="spacingAndGlyphs">601</text><text x="258.51" y="118.47" transform="rotate(-83.44 258.51 118.47)" text-anchor="start" dominant-baseline="central" fill="#262626" stroke="#262626" textLength="26.44" lengthAdjust="spacingAndGlyphs">Newman</text><text x="264.23" y="119.27" transform="rotate(-80.62 264.23 119.27)" text-anchor="start" dominant-baseline="central" fill="#262626" stroke="#262626" textLength="13.78" lengthAdjust="spacingAndGlyphs">COL</text><text x="269.90" y="120.35" transform="rotate(-77.79 269.90 120.35)" text-anchor="start" dominant-baseline="central" fill="#262626" stroke="#262626" textLength="15.63" lengthAdjust="spacingAndGlyphs">MW2</text><text x="275.51" y="121.71" transform="rotate(-74.97 275.51 121.71)" text-anchor="start" dominant-baseline="central" fill="#262626" stroke="#262626" textLength="33.90" lengthAdjust="spacingAndGlyphs">NC 002953</text><text x="281.05" y="123.35" transform="rotate(-72.15 281.05 123.35)" text-anchor="start" dominant-baseline="central" fill="#16167a" stroke="#16167a" textLength="21.23" lengthAdjust="spacingAndGlyphs">GD981</text><text x="286.51" y="125.25" transform="rotate(-69.33 286.51 125.25)" text-anchor="start" dominant-baseline="central" fill="#16167a" stroke="#16167a" textLength="20.49" lengthAdjust="spacingAndGlyphs">SR891</text><text x="291.86" y="127.42" transform="rotate(-66.51 291.86 127.42)" text-anchor="start" dominant-baseline="central" fill="#16167a" stroke="#16167a" textLength="16.01" lengthAdjust="spacingAndGlyphs">ST80</text><text x="297.10" y="129.85" transform="rotate(-63.69 297.10 129.85)" text-anchor="start" dominant-baseline="central" fill="#262626" stroke="#262626" textLength="33.90" lengthAdjust="spacingAndGlyphs">NC 022226</text><text x="302.21" y="132.54" transform="rotate(-60.87 302.21 132.54)" text-anchor="start" dominant-baseline="central" fill="#262626" stroke="#262626" textLength="33.90" lengthAdjust="spacingAndGlyphs">NC 017351</text><text x="307.18" y="135.48" transform="rotate(-58.04 307.18 135.48)" text-anchor="start" dominant-baseline="central" fill="#16167a" stroke="#16167a" textLength="24.21" lengthAdjust="spacingAndGlyphs">SR1065</text><text x="312.01" y="138.65" transform="rotate(-55.22 312.01 138.65)" text-anchor="start" dominant-baseline="central" fill="#16167a" stroke="#16167a" textLength="16.02" lengthAdjust="spacingAndGlyphs">834H</text><text x="316.67" y="142.06" transform="rotate(-52.40 316.67 142.06)" text-anchor="start" dominant-baseline="central" fill="#16167a" stroke="#16167a" textLength="29.05" lengthAdjust="spacingAndGlyphs">GAS0245</text><text x="321.16" y="145.70" transform="rotate(-49.58 321.16 145.70)" text-anchor="start" dominant-baseline="central" fill="#16167a" stroke="#16167a" textLength="14.90" lengthAdjust="spacingAndGlyphs">2614</text><text x="325.46" y="149.55" transform="rotate(-46.76 325.46 149.55)" text-anchor="start" dominant-baseline="central" fill="#262626" stroke="#262626" textLength="33.90" lengthAdjust="spacingAndGlyphs">NC 017763</text><text x="329.57" y="153.61" transform="rotate(-43.94 329.57 153.61)" text-anchor="start" dominant-baseline="central" fill="#262626" stroke="#262626" textLength="33.90" lengthAdjust="spacingAndGlyphs">NC 017342</text><text x="333.47" y="157.87" transform="rotate(-41.11 333.47 157.87)" text-anchor="start" dominant-baseline="central" fill="#262626" stroke="#262626" textLength="33.40" lengthAdjust="spacingAndGlyphs">NC 022113</text><text x="337.16" y="162.31" transform="rotate(-38.29 337.16 162.31)" text-anchor="start" dominant-baseline="central" fill="#16167a" stroke="#16167a" textLength="23.84" lengthAdjust="spacingAndGlyphs">SA1746</text><text x="340.63" y="166.93" transform="rotate(-35.47 340.63 166.93)" text-anchor="start" dominant-baseline="central" fill="#262626" stroke="#262626" textLength="33.90" lengthAdjust="spacingAndGlyphs">NC 002952</text><text x="343.86" y="171.72" transform="rotate(-32.65 343.86 171.72)" text-anchor="start" dominant-baseline="central" fill="#262626" stroke="#262626" textLength="33.90" lengthAdjust="spacingAndGlyphs">NC 017333</text><text x="346.86" y="176.65" transform="rotate(-29.83 346.86 176.65)" text-anchor="start" dominant-baseline="central" fill="#262626" stroke="#262626" textLength="33.90" lengthAdjust="spacingAndGlyphs">NC 018608</text><text x="349.61" y="181.73" transform="rotate(-27.01 349.61 181.73)" text-anchor="start" dominant-baseline="central" fill="#262626" stroke="#262626" textLength="33.90" lengthAdjust="spacingAndGlyphs">NC 017673</text><text x="352.10" y="186.94" transform="rotate(-24.19 352.10 186.94)" text-anchor="start" dominant-baseline="central" fill="#16167a" stroke="#16167a" textLength="14.90" lengthAdjust="spacingAndGlyphs">8081</text><text x="354.34" y="192.27" transform="rotate(-21.36 354.34 192.27)" text-anchor="start" dominant-baseline="central" fill="#262626" stroke="#262626" textLength="33.90" lengthAdjust="spacingAndGlyphs">NC 021554</text><text x="356.31" y="197.70" transform="rotate(-18.54 356.31 197.70)" text-anchor="start" dominant-baseline="central" fill="#16167a" stroke="#16167a" textLength="11.18" lengthAdjust="spacingAndGlyphs">012</text><text x="358.01" y="203.22" transform="rotate(-15.72 358.01 203.22)" text-anchor="start" dominant-baseline="central" fill="#262626" stroke="#262626" textLength="24.21" lengthAdjust="spacingAndGlyphs">XD6159</text><text x="359.44" y="208.81" transform="rotate(-12.90 359.44 208.81)" text-anchor="start" dominant-baseline="central" fill="#262626" stroke="#262626" textLength="33.90" lengthAdjust="spacingAndGlyphs">NC 016941</text>
</g>
<circle cx="402.22" cy="291.59" r="3.1" fill="#d61f1f"/><circle cx="399.24" cy="299.25" r="3.1" fill="#d61f1f"/><circle cx="378.93" cy="334.89" r="3.1" fill="#d61f1f"/><circle cx="356.80" cy="359.15" r="3.1" fill="#d61f1f"/><circle cx="344.05" cy="369.53" r="3.1" fill="#d61f1f"/><circle cx="337.31" cy="374.24" r="3.1" fill="#d61f1f"/><circle cx="315.81" cy="386.29" r="3.1" fill="#d61f1f"/><circle cx="308.27" cy="389.59" r="3.1" fill="#d61f1f"/><circle cx="300.59" cy="392.51" r="3.1" fill="#d61f1f"/><circle cx="276.80" cy="398.96" r="3.1" fill="#d61f1f"/><circle cx="244.10" cy="402.00" r="3.1" fill="#d61f1f"/><circle cx="235.88" cy="401.75" r="3.1" fill="#d61f1f"/><circle cx="227.68" cy="401.09" r="3.1" fill="#d61f1f"/><circle cx="187.72" cy="391.83" r="3.1" fill="#d61f1f"/><circle cx="180.07" cy="388.82" r="3.1" fill="#d61f1f"/><circle cx="158.14" cy="377.57" r="3.1" fill="#d61f1f"/><circle cx="138.10" cy="363.22" r="3.1" fill="#d61f1f"/><circle cx="131.92" cy="357.80" r="3.1" fill="#d61f1f"/><circle cx="126.01" cy="352.08" r="3.1" fill="#d61f1f"/><circle cx="120.39" cy="346.07" r="3.1" fill="#d61f1f"/><circle cx="101.07" cy="319.52" r="3.1" fill="#d61f1f"/><circle cx="80.98" cy="265.87" r="3.1" fill="#d61f1f"/><circle cx="79.66" cy="257.76" r="3.1" fill="#d61f1f"/><circle cx="88.56" cy="176.84" r="3.1" fill="#d61f1f"/><circle cx="95.03" cy="161.73" r="3.1" fill="#d61f1f"/><circle cx="117.42" cy="127.36" r="3.1" fill="#d61f1f"/><circle cx="168.52" cy="86.59" r="3.1" fill="#d61f1f"/><circle cx="247.78" cy="68.02" r="3.1" fill="#d61f1f"/><circle cx="256.00" cy="68.36" r="3.1" fill="#d61f1f"/><circle cx="296.29" cy="76.04" r="3.1" fill="#d61f1f"/><circle cx="403.43" cy="181.89" r="3.1" fill="#d61f1f"/><circle cx="395.90" cy="306.76" r="3.1" fill="#878787"/><circle cx="392.18" cy="314.10" r="3.1" fill="#878787"/><circle cx="388.11" cy="321.24" r="3.1" fill="#878787"/><circle cx="383.69" cy="328.18" r="3.1" fill="#878787"/><circle cx="373.86" cy="341.35" r="3.1" fill="#878787"/><circle cx="368.46" cy="347.56" r="3.1" fill="#878787"/><circle cx="362.77" cy="353.50" r="3.1" fill="#878787"/><circle cx="350.55" cy="364.49" r="3.1" fill="#878787"/><circle cx="323.17" cy="382.63" r="3.1" fill="#878787"/><circle cx="292.77" cy="395.05" r="3.1" fill="#878787"/><circle cx="284.83" cy="397.20" r="3.1" fill="#878787"/><circle cx="268.69" cy="400.33" r="3.1" fill="#878787"/><circle cx="260.52" cy="401.29" r="3.1" fill="#878787"/><circle cx="252.32" cy="401.84" r="3.1" fill="#878787"/><circle cx="211.43" cy="398.57" r="3.1" fill="#878787"/><circle cx="203.42" cy="396.72" r="3.1" fill="#878787"/><circle cx="195.51" cy="394.47" r="3.1" fill="#878787"/><circle cx="172.58" cy="385.43" r="3.1" fill="#878787"/><circle cx="165.26" cy="381.68" r="3.1" fill="#878787"/><circle cx="151.23" cy="373.12" r="3.1" fill="#878787"/><circle cx="144.54" cy="368.33" r="3.1" fill="#878787"/><circle cx="115.08" cy="339.80" r="3.1" fill="#878787"/><circle cx="110.08" cy="333.27" r="3.1" fill="#878787"/><circle cx="105.40" cy="326.51" r="3.1" fill="#878787"/><circle cx="97.08" cy="312.33" r="3.1" fill="#878787"/><circle cx="93.45" cy="304.95" r="3.1" fill="#878787"/><circle cx="90.19" cy="297.40" r="3.1" fill="#878787"/><circle cx="87.31" cy="289.70" r="3.1" fill="#878787"/><circle cx="85.88" cy="184.61" r="3.1" fill="#878787"/><circle cx="102.97" cy="147.32" r="3.1" fill="#878787"/><circle cx="140.96" cy="104.45" r="3.1" fill="#878787"/><circle cx="147.51" cy="99.48" r="3.1" fill="#878787"/><circle cx="154.30" cy="94.84" r="3.1" fill="#878787"/><circle cx="175.92" cy="83.00" r="3.1" fill="#878787"/><circle cx="183.48" cy="79.78" r="3.1" fill="#878787"/><circle cx="199.04" cy="74.48" r="3.1" fill="#878787"/><circle cx="207.00" cy="72.40" r="3.1" fill="#878787"/><circle cx="215.05" cy="70.73" r="3.1" fill="#878787"/><circle cx="223.17" cy="69.45" r="3.1" fill="#878787"/><circle cx="231.35" cy="68.57" r="3.1" fill="#878787"/><circle cx="239.56" cy="68.09" r="3.1" fill="#878787"/><circle cx="304.05" cy="78.75" r="3.1" fill="#878787"/><circle cx="311.67" cy="81.84" r="3.1" fill="#878787"/><circle cx="333.49" cy="93.31" r="3.1" fill="#878787"/><circle cx="340.36" cy="97.83" r="3.1" fill="#878787"/><circle cx="346.99" cy="102.69" r="3.1" fill="#878787"/><circle cx="353.38" cy="107.86" r="3.1" fill="#878787"/><circle cx="376.17" cy="131.51" r="3.1" fill="#878787"/><circle cx="397.44" cy="166.58" r="3.1" fill="#878787"/><polygon points="409.40,300.58 410.16,302.43 412.16,302.59 410.63,303.89 411.10,305.83 409.40,304.78 407.69,305.83 408.16,303.89 406.64,302.59 408.63,302.43" fill="#10107a"/><polygon points="350.57,375.49 351.33,377.34 353.33,377.49 351.80,378.79 352.27,380.74 350.57,379.69 348.86,380.74 349.33,378.79 347.81,377.49 349.80,377.34" fill="#10107a"/><polygon points="278.89,406.86 279.65,408.71 281.65,408.87 280.12,410.17 280.59,412.11 278.89,411.06 277.18,412.11 277.65,410.17 276.13,408.87 278.12,408.71" fill="#10107a"/><polygon points="235.27,409.83 236.03,411.68 238.03,411.83 236.51,413.13 236.98,415.07 235.27,414.03 233.57,415.07 234.03,413.13 232.51,411.83 234.51,411.68" fill="#10107a"/><polygon points="175.79,396.05 176.55,397.90 178.55,398.06 177.03,399.35 177.49,401.30 175.79,400.25 174.09,401.30 174.55,399.35 173.03,398.06 175.03,397.90" fill="#10107a"/><polygon points="91.58,322.19 92.34,324.03 94.34,324.19 92.82,325.49 93.28,327.43 91.58,326.39 89.88,327.43 90.34,325.49 88.82,324.19 90.82,324.03" fill="#10107a"/><polygon points="70.17,265.01 70.93,266.86 72.93,267.01 71.40,268.31 71.87,270.25 70.17,269.21 68.46,270.25 68.93,268.31 67.41,267.01 69.40,266.86" fill="#10107a"/><polygon points="85.15,154.00 85.91,155.85 87.91,156.00 86.39,157.30 86.85,159.24 85.15,158.20 83.44,159.24 83.91,157.30 82.39,156.00 84.39,155.85" fill="#10107a"/><polygon points="98.39,131.31 99.15,133.15 101.15,133.31 99.62,134.61 100.09,136.55 98.39,135.51 96.68,136.55 97.15,134.61 95.63,133.31 97.62,133.15" fill="#10107a"/><polygon points="103.53,124.21 104.29,126.05 106.29,126.21 104.76,127.51 105.23,129.45 103.53,128.41 101.82,129.45 102.29,127.51 100.77,126.21 102.76,126.05" fill="#10107a"/><polygon points="163.47,73.92 164.24,75.77 166.23,75.92 164.71,77.22 165.18,79.17 163.47,78.12 161.77,79.17 162.24,77.22 160.72,75.92 162.71,75.77" fill="#10107a"/><polygon points="247.96,54.12 248.72,55.97 250.72,56.13 249.19,57.42 249.66,59.37 247.96,58.32 246.25,59.37 246.72,57.42 245.20,56.13 247.19,55.97" fill="#10107a"/><polygon points="413.86,175.49 414.62,177.34 416.62,177.50 415.10,178.80 415.56,180.74 413.86,179.69 412.16,180.74 412.62,178.80 411.10,177.50 413.10,177.34" fill="#10107a"/>
<rect x="8" y="8" width="128" height="31.5" fill="#5a5a5a"/>
<text x="20.3" y="31.2" font-family="Liberation Sans, sans-serif" font-size="16.6" fill="#f4f4f4" textLength="103.5" lengthAdjust="spacingAndGlyphs">TG: MYYJJPP</text>
<rect x="408" y="440" width="184" height="32" fill="#5a5a5a"/>
<text x="425.5" y="460.8" font-family="Liberation Sans, sans-serif" font-size="17" fill="#f4f4f4" textLength="154.5" lengthAdjust="spacingAndGlyphs">www.argoesiloe.com</text>
</svg>

</body></html>
